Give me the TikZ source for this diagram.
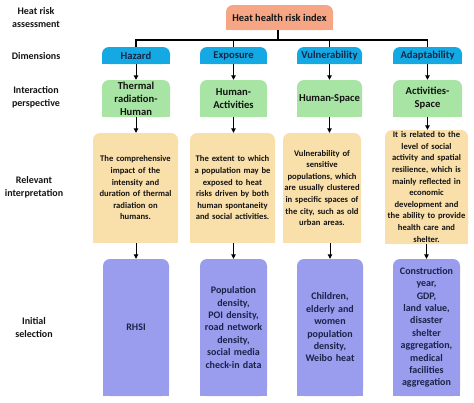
\documentclass[tikz,border=0pt]{standalone}
\usepackage{fontspec}
\setmainfont{Carlito}[BoldFont={Carlito Bold}]
\usetikzlibrary{arrows.meta}
\definecolor{corange}{HTML}{F6A685}
\definecolor{cblue}{HTML}{14A9E2}
\definecolor{cgreen}{HTML}{A8E4A4}
\definecolor{cbeige}{HTML}{F9DFAA}
\definecolor{cpurple}{HTML}{9A9CEE}
\definecolor{navy}{HTML}{172548}
\definecolor{dtext}{HTML}{141414}
\tikzset{
  lbl/.style={font=\bfseries\fontsize{10}{13}\selectfont, align=center, text=dtext},
  boxtxt/.style={inner sep=0pt, align=center, font=\bfseries},
  link/.style={line width=1.4pt, black},
  arr/.style={line width=0.9pt, black, -{Triangle[length=4.5pt,width=4.5pt]}},
}
% name, color, x1, y1, x2, y2, text options, text
\newcommand\tbox[8]{%
  \fill[#2,rounded corners=7pt] (#3,#4) rectangle (#5,#6);
  \fill[#2] (#3,{(#4+#6)/2}) rectangle (#5,#6);
  \node[boxtxt, minimum width={#5-#3}, minimum height={#6-#4}, #7] (#1) at ({(#3+#5)/2},{(#4+#6)/2}) {#8};
}
\begin{document}
\begin{tikzpicture}[x=1pt,y=-1pt]
\useasboundingbox (0,0) rectangle (474,402);
% left labels
\node[lbl] (l1) at (36,18) {Heat risk\\assessment};
\node[lbl] (l2) at (36,56) {Dimensions};
\node[lbl] (l3) at (36,97) {Interaction\\perspective};
\node[lbl] (l4) at (34,187) {Relevant\\interpretation};
\node[lbl] (l5) at (34,328) {Initial\\selection};
% top
\tbox{top}{corange}{226}{5}{333}{30}{font=\bfseries\fontsize{10.4}{12}\selectfont, text=dtext}{Heat health risk index}
% dimensions
\tbox{haz}{cblue}{102}{47}{170}{64}{font=\bfseries\fontsize{10.6}{12}\selectfont, text=navy}{Hazard}
\tbox{exp}{cblue}{200}{47}{267}{64}{font=\bfseries\fontsize{10.6}{12}\selectfont, text=navy}{Exposure}
\tbox{vul}{cblue}{297}{47}{362}{64}{font=\bfseries\fontsize{10.6}{12}\selectfont, text=navy}{Vulnerability}
\tbox{adp}{cblue}{393}{47}{462}{64}{font=\bfseries\fontsize{10.6}{12}\selectfont, text=navy}{Adaptability}
% interaction
\tbox{g1}{cgreen}{102}{80}{170}{117}{font=\bfseries\fontsize{10.6}{13}\selectfont, text=dtext, text width=66pt}{Thermal\\radiation-\\Human}
\tbox{g2}{cgreen}{200}{80}{267}{117}{font=\bfseries\fontsize{10.6}{13}\selectfont, text=dtext, text width=66pt}{Human-\\Activities}
\tbox{g3}{cgreen}{297}{80}{362}{117}{font=\bfseries\fontsize{10.6}{13}\selectfont, text=dtext, text width=66pt}{Human-Space}
\tbox{g4}{cgreen}{393}{80}{462}{117}{font=\bfseries\fontsize{10.6}{13}\selectfont, text=dtext, text width=66pt}{Activities-\\Space}
% interpretation
\tbox{b1}{cbeige}{93}{133}{178}{243}{font=\bfseries\fontsize{8.6}{11.6}\selectfont, text=dtext, text width=82pt}{The comprehensive\\impact of the\\intensity and\\duration of thermal\\radiation on\\humans.}
\tbox{b2}{cbeige}{190}{133}{275}{243}{font=\bfseries\fontsize{8.6}{11.6}\selectfont, text=dtext, text width=82pt}{The extent to which\\a population may be\\exposed to heat\\risks driven by both\\human spontaneity\\and social activities.}
\tbox{b3}{cbeige}{283}{133}{361}{243}{font=\bfseries\fontsize{8.6}{11.6}\selectfont, text=dtext, text width=78pt}{Vulnerability of\\sensitive\\populations, which\\are usually clustered\\in specific spaces of\\the city, such as old\\urban areas.}
\tbox{b4}{cbeige}{385}{130}{468}{244}{font=\bfseries\fontsize{8.6}{11.6}\selectfont, text=dtext, text width=82pt}{It is related to the\\level of social\\activity and spatial\\resilience, which is\\mainly reflected in\\economic\\development and\\the ability to provide\\health care and\\shelter.}
% selection
\tbox{p1}{cpurple}{103}{259}{169}{396}{font=\bfseries\fontsize{10}{12.4}\selectfont, text=navy, text width=66pt}{RHSI}
\tbox{p2}{cpurple}{200}{259}{267}{396}{font=\bfseries\fontsize{10}{12.4}\selectfont, text=navy, text width=66pt}{Population\\density,\\POI density,\\road network\\density,\\social media\\check-in data}
\tbox{p3}{cpurple}{297}{259}{363}{396}{font=\bfseries\fontsize{10}{12.4}\selectfont, text=navy, text width=66pt}{Children,\\elderly and\\women\\population\\density,\\Weibo heat}
\tbox{p4}{cpurple}{393}{259}{460}{396}{font=\bfseries\fontsize{10}{12.4}\selectfont, text=navy, text width=66pt}{Construction\\year,\\GDP,\\land value,\\disaster\\shelter\\aggregation,\\medical\\facilities\\aggregation}
% bus
\coordinate (bus) at (278,40);
\draw[link] (top.south -| bus) -- (bus);
\draw[link] (haz.north) -- (haz.north |- bus) -- (adp.north |- bus) -- (adp.north);
\draw[link] (exp.north) -- (exp.north |- bus);
\draw[link] (vul.north) -- (vul.north |- bus);
% arrows
\foreach \a/\b in {haz/g1, exp/g2, vul/g3, adp/g4}
  \draw[arr] (\a.south) -- (\b.north);
\draw[arr] (g1.south) -- (g1.south |- b1.north);
\draw[arr] (g2.south) -- (g2.south |- b2.north);
\draw[arr] (g3.south) -- (g3.south |- b3.north);
\draw[arr] (g4.south) -- (g4.south |- b4.north);
\draw[arr] (b1.south -| p1.north) -- (p1.north);
\draw[arr] (b2.south -| p2.north) -- (p2.north);
\draw[arr] (b3.south -| p3.north) -- (p3.north);
\draw[arr] (b4.south -| p4.north) -- (p4.north);
\end{tikzpicture}
\end{document}
